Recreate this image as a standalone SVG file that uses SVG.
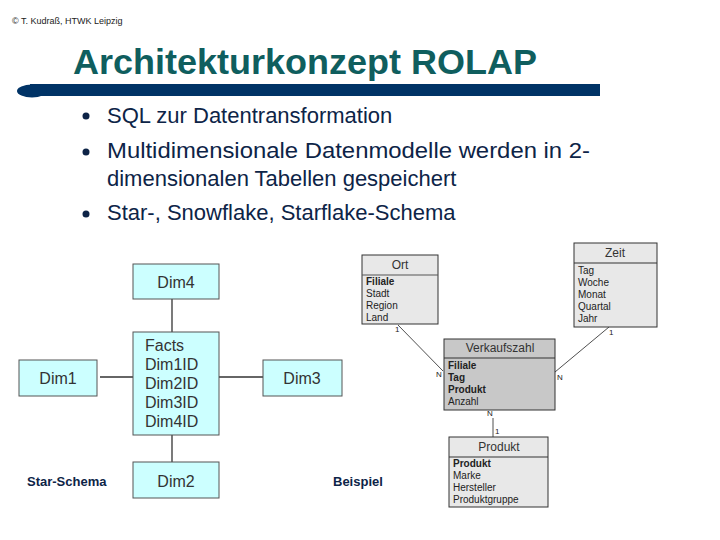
<svg xmlns="http://www.w3.org/2000/svg" width="720" height="540" viewBox="0 0 720 540">
<style>
text{font-family:"Liberation Sans",Arial,sans-serif}
.bul{font-size:22px;fill:#0d2447}
.dim rect{fill:#ccffff;stroke:#555;stroke-width:1}
.dim text{font-size:16px;fill:#333}
.con line{stroke:#333;stroke-width:1.3}
.er line{stroke:#222;stroke-width:0.8}
.tb rect{stroke:#333;stroke-width:1}
.tb .h{font-size:12px;fill:#333;text-anchor:middle}
.tb .r{font-size:10px;fill:#222}
.tb .b{font-weight:bold}
.lab{font-size:8px;fill:#222}
.cap{font-size:13px;font-weight:bold;fill:#0d2447}
</style>
<rect width="720" height="540" fill="#fff"/>
<text x="12" y="24" font-size="9" fill="#222">© T. Kudraß, HTWK Leipzig</text>
<text x="73" y="74" font-size="35" font-weight="bold" fill="#0f5e5e" textLength="464" lengthAdjust="spacingAndGlyphs">Architekturkonzept ROLAP</text>
<g id="bar">
<rect x="30" y="84" width="570" height="12" fill="#003366"/>
<ellipse cx="32" cy="91" rx="15" ry="6.5" fill="#003366"/>
</g>
<g id="bullets">
<circle cx="86" cy="116" r="3.5" fill="#0d2447"/>
<circle cx="86" cy="152" r="3.5" fill="#0d2447"/>
<circle cx="86" cy="214" r="3.5" fill="#0d2447"/>
<text class="bul" x="107" y="123">SQL zur Datentransformation</text>
<text class="bul" x="107" y="158" textLength="483" lengthAdjust="spacingAndGlyphs">Multidimensionale Datenmodelle werden in 2-</text>
<text class="bul" x="107" y="186">dimensionalen Tabellen gespeichert</text>
<text class="bul" x="107" y="220">Star-, Snowflake, Starflake-Schema</text>
</g>
<g id="star-connectors" class="con">
<line x1="172" y1="299" x2="172" y2="332"/>
<line x1="172" y1="435" x2="172" y2="462"/>
<line x1="100" y1="377" x2="133" y2="377"/>
<line x1="219" y1="377" x2="263" y2="377"/>
</g>
<g id="dim4" class="dim"><rect x="133" y="264" width="86" height="35"/><text x="176" y="288" text-anchor="middle">Dim4</text></g>
<g id="facts" class="dim"><rect x="133" y="332" width="86" height="103"/>
<text x="145" y="351">Facts</text><text x="145" y="370">Dim1ID</text><text x="145" y="389">Dim2ID</text><text x="145" y="408">Dim3ID</text><text x="145" y="427">Dim4ID</text></g>
<g id="dim1" class="dim"><rect x="19" y="360" width="78" height="36"/><text x="58" y="384" text-anchor="middle">Dim1</text></g>
<g id="dim3" class="dim"><rect x="263" y="360" width="79" height="36"/><text x="302" y="384" text-anchor="middle">Dim3</text></g>
<g id="dim2" class="dim"><rect x="133" y="462" width="86" height="36"/><text x="176" y="487" text-anchor="middle">Dim2</text></g>
<text class="cap" x="27" y="486">Star-Schema</text>
<text class="cap" x="333" y="486">Beispiel</text>
<g id="er-connectors" class="er">
<line x1="398" y1="325" x2="443" y2="371"/>
<line x1="609" y1="327" x2="555" y2="372"/>
<line x1="493" y1="418" x2="493" y2="437"/>
</g>
<g class="lab">
<text x="395" y="332" class="lab">1</text>
<text x="436" y="377" class="lab">N</text>
<text x="609" y="335" class="lab">1</text>
<text x="557" y="380" class="lab">N</text>
<text x="487" y="416" class="lab">N</text>
<text x="495" y="434" class="lab">1</text>
</g>
<g id="ort" class="tb">
<rect x="362" y="255" width="76" height="69" fill="#e8e8e8"/>
<line x1="362" y1="275" x2="438" y2="275" stroke="#555"/>
<text class="h" x="400" y="269">Ort</text>
<text class="r b" x="366" y="285">Filiale</text>
<text class="r" x="366" y="297">Stadt</text>
<text class="r" x="366" y="309">Region</text>
<text class="r" x="366" y="321">Land</text>
</g>
<g id="zeit" class="tb">
<rect x="574" y="243" width="83" height="84" fill="#e8e8e8"/>
<line x1="574" y1="263" x2="657" y2="263" stroke="#333"/>
<text class="h" x="615" y="257">Zeit</text>
<text class="r" x="578" y="274">Tag</text>
<text class="r" x="578" y="286">Woche</text>
<text class="r" x="578" y="298">Monat</text>
<text class="r" x="578" y="310">Quartal</text>
<text class="r" x="578" y="322">Jahr</text>
</g>
<g id="verkaufszahl" class="tb">
<rect x="444" y="339" width="111" height="71" fill="#c8c8c8"/>
<line x1="444" y1="358" x2="555" y2="358" stroke="#333"/>
<text class="h" x="500" y="352">Verkaufszahl</text>
<text class="r b" x="448" y="369">Filiale</text>
<text class="r b" x="448" y="381">Tag</text>
<text class="r b" x="448" y="393">Produkt</text>
<text class="r" x="448" y="405">Anzahl</text>
</g>
<g id="produkt" class="tb">
<rect x="449" y="437" width="99" height="70" fill="#e8e8e8"/>
<line x1="449" y1="457" x2="548" y2="457" stroke="#333"/>
<text class="h" x="499" y="451">Produkt</text>
<text class="r b" x="453" y="467">Produkt</text>
<text class="r" x="453" y="479">Marke</text>
<text class="r" x="453" y="491">Hersteller</text>
<text class="r" x="453" y="503">Produktgruppe</text>
</g>
</svg>
